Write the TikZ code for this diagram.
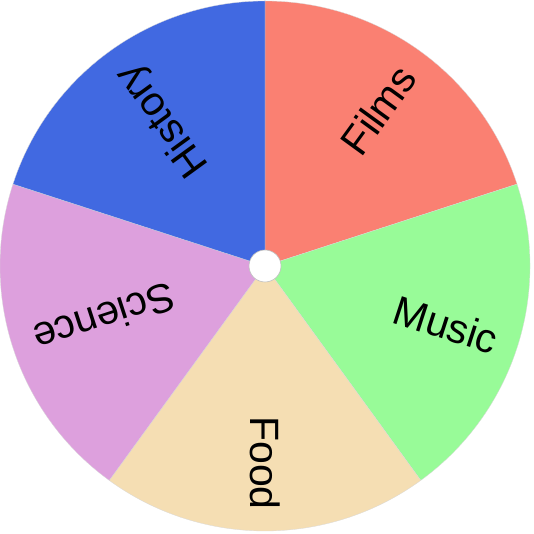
\documentclass[tikz,border=0pt]{standalone}
\usepackage{fontspec}
\setmainfont{Liberation Sans}
\definecolor{filmsred}{HTML}{FA8072}
\definecolor{musicgreen}{HTML}{98FB98}
\definecolor{foodwheat}{HTML}{F5DEB3}
\definecolor{scienceplum}{HTML}{DDA0DD}
\definecolor{historyblue}{HTML}{4169E1}

\begin{document}
\begin{tikzpicture}[
  x=1pt, y=1pt,
  font=\fontsize{41}{41}\selectfont,
  slice/.style={draw=white!70!gray, line width=0.3pt},
  lbl/.style={anchor=east, inner sep=0pt, text height=29pt, text depth=0pt},
  hub/.style={circle, fill=white, draw=black!25, line width=0.6pt, minimum size=32pt, inner sep=0pt},
]
  \useasboundingbox (-265,-268) rectangle (269,266);
  % slices of the wheel
  \fill[filmsred, slice]    (0,0) -- (90:265)  arc[start angle=90,  end angle=18,   radius=265] -- cycle;
  \fill[musicgreen, slice]  (0,0) -- (18:265)  arc[start angle=18,  end angle=-54,  radius=265] -- cycle;
  \fill[foodwheat, slice]   (0,0) -- (-54:265) arc[start angle=-54, end angle=-126, radius=265] -- cycle;
  \fill[scienceplum, slice] (0,0) -- (234:265) arc[start angle=234, end angle=162,  radius=265] -- cycle;
  \fill[historyblue, slice] (0,0) -- (162:265) arc[start angle=162, end angle=90,   radius=265] -- cycle;
  % labels
  \node[lbl, rotate=54]  (films)   at (54:242)  {Films};
  \node[lbl, rotate=-18] (music)   at (-18:244) {Music};
  \node[lbl, rotate=-90] (food)    at (-90:244) {Food};
  \node[lbl, rotate=198] (science) at (198:242) {Science};
  \node[lbl, rotate=126] (history) at (126:242) {History};
  % centre
  \node[hub] (hub) at (0,0) {};
\end{tikzpicture}
\end{document}
